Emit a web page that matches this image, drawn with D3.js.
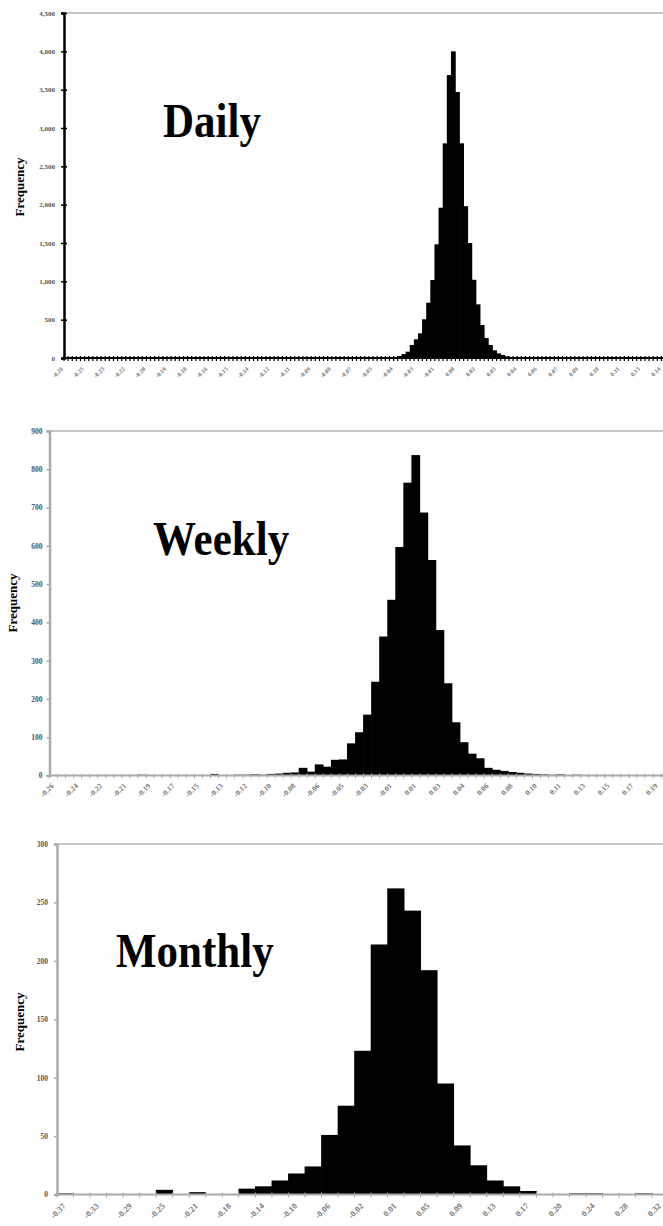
<!DOCTYPE html>
<html><head><meta charset="utf-8">
<script src="https://cdn.jsdelivr.net/npm/d3@7"></script>
<style>body{margin:0;background:#fff} svg{display:block}</style>
</head><body>
<svg id="c" width="663" height="1226"></svg>
<script>
// ---------- DATA ----------
const dailyValues = [
  0,0,0,0,0,0,0,0,0,0,
  0,0,0,0,0,0,0,0,0,0,
  0,0,0,0,0,0,0,0,0,0,
  0,0,0,0,0,0,0,0,0,0,
  0,0,0,0,0,0,0,0,0,0,
  0,0,0,0,0,0,0,0,0,0,
  0,0,0,0,0,0,0,0,0,0,
  1,1,1,2,2,3,3,4,6,8,
  12,26,52,82,170,244,322,505,721,1017,
  1483,1960,2800,3690,4000,3470,2800,1980,1500,1020,
  700,430,260,170,100,60,40,22,12,8,
  5,3,2,2,1,1,0,0,0,0,
  0,0,0,0,0,0,0,0,0,0,
  0,0,0,0,0,0,0,0,0,0,
  0,0,0,0,0,0
];
const dailyTickLabels = ["-0.26","-0.25","-0.23","-0.22","-0.20","-0.19","-0.18","-0.16","-0.15","-0.14",
  "-0.12","-0.11","-0.09","-0.08","-0.07","-0.05","-0.04","-0.03","-0.01","0.00",
  "0.02","0.03","0.04","0.06","0.07","0.09","0.10","0.11","0.13","0.14"];
const dailyYTicks = [0,500,1000,1500,2000,2500,3000,3500,4000,4500];

const weeklyValues = [
  0,0,0,0,0,0,0,0,0,0,
  0,2,0,0,0,0,0,1,0,0,
  4,1,0,2,2,3,2,4,5,7,
  8,20,10,29,23,41,42,84,113,159,
  245,363,459,597,765,837,687,563,380,241,
  139,87,57,45,20,15,12,9,7,5,
  4,3,2,3,1,2,1,1,0,1,
  0,0,0,0,0,0
];
const weeklyTickLabels = ["-0.26","-0.24","-0.22","-0.21","-0.19","-0.17","-0.15","-0.13","-0.12","-0.10",
  "-0.08","-0.06","-0.05","-0.03","-0.01","0.01","0.03","0.04","0.06","0.08",
  "0.10","0.11","0.13","0.15","0.17","0.19"];
const weeklyYTicks = [0,100,200,300,400,500,600,700,800,900];

const monthlyValues = [
  1,0,0,0,0,0,4,0,2,0,
  0,5,7,12,18,24,51,76,123,214,
  262,243,192,95,42,25,12,7,3,0,
  0,1,1,0,0,1,0
];
const monthlyTickLabels = ["-0.37","-0.33","-0.29","-0.25","-0.21","-0.18","-0.14","-0.10","-0.06","-0.02",
  "0.01","0.05","0.09","0.13","0.17","0.20","0.24","0.28","0.32"];
const monthlyYTicks = [0,50,100,150,200,250,300];

const titles = ["Daily","Weekly","Monthly"];
const yAxisTitle = "Frequency";

// ---------- DRAW ----------
const svg = d3.select("#c");
const serif = "'Liberation Serif','Times New Roman',serif";

const panels = [
  {values: dailyValues, labels: dailyTickLabels, yTicks: dailyYTicks, yMax: 4500, every: 5,
   x0: 64, bw: 4.12, top: 13, bottom: 358, axis: "#000", yFmt: d3.format(","),
   title: titles[0], tx: 163, ty: 137, fx: 19, fy: 187,
   xlSize: 6, xlOff: [-4, 10], ylSize: 7, ylGap: 9, cross: true},
  {values: weeklyValues, labels: weeklyTickLabels, yTicks: weeklyYTicks, yMax: 900, every: 3,
   x0: 49.5, bw: 8.05, top: 431, bottom: 775.5, axis: "#aaa", yFmt: d3.format("d"),
   title: titles[1], tx: 153, ty: 555, fx: 12.5, fy: 603,
   xlSize: 7.5, xlOff: [-1, 9], ylSize: 7.5, ylGap: 7, cross: false},
  {values: monthlyValues, labels: monthlyTickLabels, yTicks: monthlyYTicks, yMax: 300, every: 2,
   x0: 57, bw: 16.53, top: 844, bottom: 1194.5, axis: "#aaa", yFmt: d3.format("d"),
   title: titles[2], tx: 116, ty: 967, fx: 19, fy: 1022,
   xlSize: 8.5, xlOff: [-1, 10], ylSize: 7.5, ylGap: 9, cross: false}
];

panels.forEach(p => {
  const n = p.values.length;
  const idx = d3.range(n);
  const x = d3.scaleBand().domain(idx).range([p.x0, p.x0 + n * p.bw]).padding(0);
  const y = d3.scaleLinear().domain([0, p.yMax]).range([p.bottom, p.top]);
  const g = svg.append("g");

  // top border
  g.append("line").attr("x1", p.x0).attr("x2", 663).attr("y1", y(p.yMax)).attr("y2", y(p.yMax))
    .attr("stroke", "#b5b5b5").attr("stroke-width", 1.5);

  // bars (slightly overlapped to avoid anti-aliasing seams)
  g.append("g").selectAll("rect").data(p.values).join("rect")
    .attr("x", (d, i) => x(i) - 0.35).attr("width", x.bandwidth() + 0.7)
    .attr("y", d => y(d)).attr("height", d => p.bottom - y(d))
    .attr("fill", "#000");

  // x tick marks at bin boundaries
  g.append("g").selectAll("line").data(d3.range(n + 1)).join("line")
    .attr("x1", i => p.x0 + i * x.step()).attr("x2", i => p.x0 + i * x.step())
    .attr("y1", p.bottom - 2).attr("y2", p.bottom + 3)
    .attr("stroke", p.axis).attr("stroke-width", p.cross ? 1.2 : 1);

  // x axis labels
  const labIdx = idx.filter(i => i % p.every === 0 && p.labels[i / p.every] !== undefined);
  const xa = g.append("g").attr("transform", `translate(0,${p.bottom})`)
    .call(d3.axisBottom(x).tickValues(labIdx).tickFormat(i => p.labels[i / p.every]).tickSize(0));
  xa.select(".domain").remove();
  xa.selectAll("text")
    .attr("x", 0).attr("y", 0).attr("dy", "0.35em")
    .attr("text-anchor", "end")
    .attr("transform", `translate(${p.xlOff[0]},${p.xlOff[1]}) rotate(-45)`)
    .attr("font-family", serif).attr("font-size", p.xlSize).attr("font-weight", "bold")
    .attr("fill", "#777");

  // baseline
  g.append("line").attr("x1", p.x0).attr("x2", 663).attr("y1", p.bottom).attr("y2", p.bottom)
    .attr("stroke", p.axis).attr("stroke-width", 2);

  // y axis
  const ya = g.append("g").attr("transform", `translate(${p.x0},0)`)
    .call(d3.axisLeft(y).tickValues(p.yTicks).tickFormat(p.yFmt).tickSize(3).tickPadding(p.ylGap - 3));
  ya.select(".domain").attr("stroke", p.axis).attr("stroke-width", 2.5);
  ya.selectAll(".tick line").attr("stroke", p.axis).attr("stroke-width", 1.5)
    .attr("x2", -3).attr("x1", p.cross ? 3 : 0);
  ya.selectAll("text").attr("font-family", serif).attr("font-size", p.ylSize)
    .attr("font-weight", "bold").attr("fill", "#555");

  // y axis title
  g.append("text").attr("transform", `translate(${p.fx},${p.fy}) rotate(-90)`)
    .attr("text-anchor", "middle").attr("dy", "0.35em")
    .attr("font-family", serif).attr("font-weight", "bold").attr("font-size", 13)
    .attr("fill", "#000").text(yAxisTitle);

  // panel title
  g.append("text").attr("transform", `translate(${p.tx},${p.ty}) scale(1,1.15)`)
    .attr("font-family", serif).attr("font-weight", "bold").attr("font-size", 43)
    .attr("fill", "#000").text(p.title);
});
</script>
</body></html>
